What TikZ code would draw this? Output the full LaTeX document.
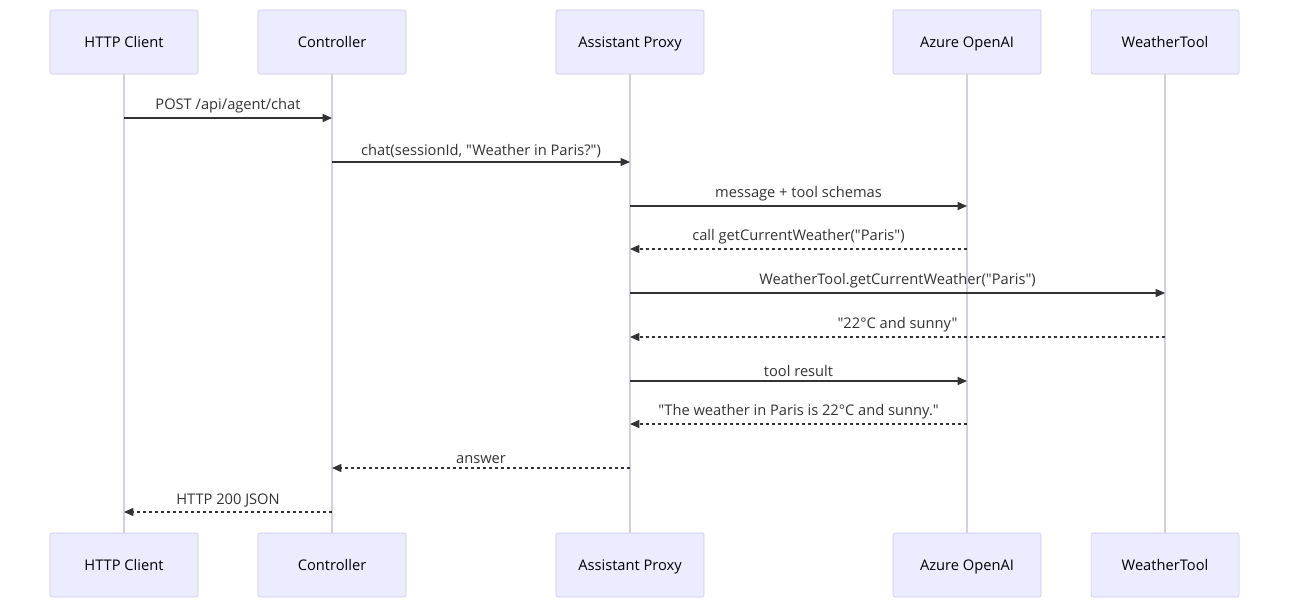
\documentclass[tikz,border=0pt]{standalone}
\usepackage{fontspec}
\setmainfont{Open Sans}[Ligatures=TeXOff]
\usetikzlibrary{arrows.meta, positioning}
\definecolor{actfill}{HTML}{ECECFF}
\definecolor{actdraw}{HTML}{CDC3F0}
\definecolor{lifeline}{HTML}{D3CDEA}
\definecolor{msgcol}{HTML}{333333}

\begin{document}
\begin{tikzpicture}[x=0.75pt, y=-0.75pt, >={Triangle[length=7pt, width=6pt]}]
				\tikzstyle{actor} = [draw=actdraw, fill=actfill, rounded corners=1.5pt, minimum width=111pt, minimum height=48pt, inner sep=0pt, text height=9pt, text depth=1.5pt, font=\fontsize{11}{13}\selectfont, text=black]
				\tikzstyle{life} = [draw=lifeline, line width=1.2pt]
				\tikzstyle{msg} = [->, draw=msgcol, line width=1pt]
				\tikzstyle{reply} = [msg, dash pattern=on 2.5pt off 2pt]
				\tikzstyle{lbl} = [font=\fontsize{11}{13}\selectfont, text=msgcol, above, inner sep=3pt]
				
				\useasboundingbox (0,0) rectangle (1298,612);
				
				% lifelines first, boxes on top
				\foreach \name/\x/\txt in {hc/124/HTTP Client, ctl/332/Controller, ap/630/Assistant Proxy, ao/967/Azure OpenAI, wt/1165/WeatherTool} {
					\coordinate (\name-top) at (\x, 74);
					\coordinate (\name-bot) at (\x, 533);
					\draw[life] (\name-top) -- (\name-bot);
					\node[actor] at (\x, 42) (\name) {\txt};
					\node[actor] at (\x, 565) (\name B) {\txt};
				}
				
				% message levels
				\foreach \i/\y in {1/118, 2/162, 3/206, 4/249, 5/293, 6/337, 7/381, 8/424, 9/468, 10/512}
					\coordinate (m\i) at (0, \y);
				
				\draw[msg]   (hc |- m1) -- node[lbl] {POST /api/agent/chat} (ctl |- m1);
				\draw[msg]   (ctl |- m2) -- node[lbl] {chat(sessionId, "Weather in Paris?")} (ap |- m2);
				\draw[msg]   (ap |- m3) -- node[lbl] {message + tool schemas} (ao |- m3);
				\draw[reply] (ao |- m4) -- node[lbl] {call getCurrentWeather("Paris")} (ap |- m4);
				\draw[msg]   (ap |- m5) -- node[lbl] {WeatherTool.getCurrentWeather("Paris")} (wt |- m5);
				\draw[reply] (wt |- m6) -- node[lbl] {"22°C and sunny"} (ap |- m6);
				\draw[msg]   (ap |- m7) -- node[lbl] {tool result} (ao |- m7);
				\draw[reply] (ao |- m8) -- node[lbl] {"The weather in Paris is 22°C and sunny."} (ap |- m8);
				\draw[reply] (ap |- m9) -- node[lbl] {answer} (ctl |- m9);
				\draw[reply] (ctl |- m10) -- node[lbl] {HTTP 200 JSON} (hc |- m10);
			\end{tikzpicture}
\end{document}
